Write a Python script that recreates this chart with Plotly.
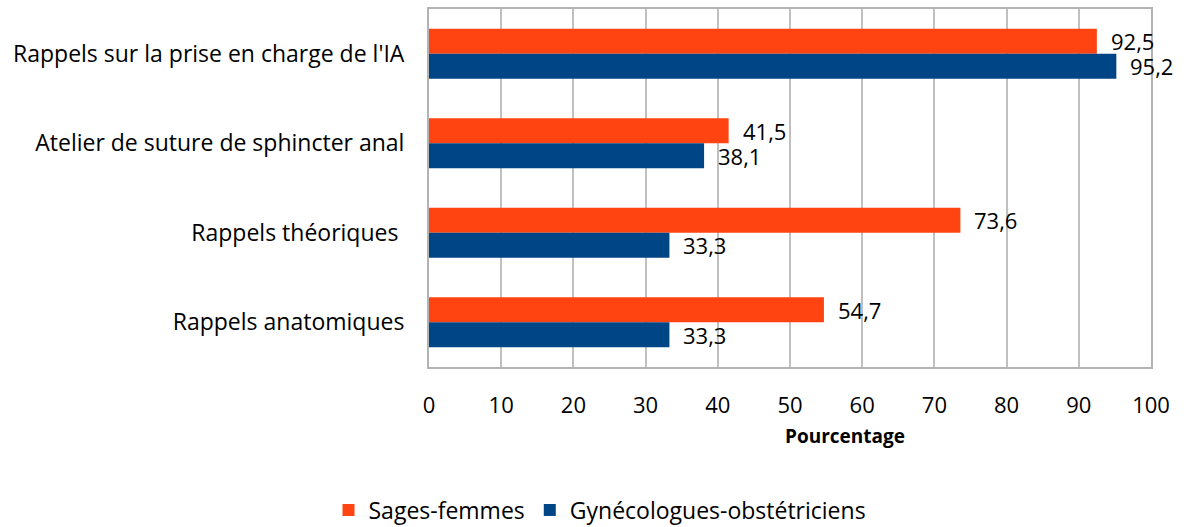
import plotly.graph_objects as go

categories = ["Rappels sur la prise en charge de l'IA",
              "Atelier de suture de sphincter anal",
              "Rappels théoriques ",
              "Rappels anatomiques"]
sages_femmes = [92.5, 41.5, 73.6, 54.7]
gyneco = [95.2, 38.1, 33.3, 33.3]
series_names = ["Sages-femmes", "Gynécologues-obstétriciens"]
colors = ["#FF4411", "#004586"]
x_ticks = [0, 10, 20, 30, 40, 50, 60, 70, 80, 90, 100]

FONT = "Open Sans"
FS = 22

fig = go.Figure()
for name, vals, col in zip(series_names, [sages_femmes, gyneco], colors):
    fig.add_trace(go.Bar(
        y=categories, x=vals, name=name, orientation="h",
        marker=dict(color=col, line=dict(width=0)),
        textposition="none",
    ))

# value labels as annotations anchored to data coordinates
for vals, off in zip([sages_femmes, gyneco], [-0.14, 0.14]):
    for i, v in enumerate(vals):
        fig.add_annotation(
            x=v, y=i + off, xref="x", yref="y",
            text=f"{v:.1f}".replace(".", ","), showarrow=False,
            xanchor="left", yanchor="middle", xshift=12,
            font=dict(family=FONT, size=22, color="#000000"),
        )

fig.add_annotation(
    x=(845 - 429) / 722, xref="paper", y=0, yref="paper", text="<b>Pourcentage</b>",
    showarrow=False, xanchor="center", yanchor="middle", yshift=-69,
    font=dict(family=FONT, size=19, color="#000000"),
)

fig.update_layout(
    width=1190, height=527,
    margin=dict(l=429, r=39, t=9, b=160, autoexpand=False),
    plot_bgcolor="white", paper_bgcolor="white",
    barmode="group", bargap=0.44, bargroupgap=0,
    font=dict(family=FONT, size=FS, color="#000000"),
    showlegend=True,
    legend=dict(orientation="h", x=(600 - 429) / 722, xanchor="center",
                y=-143 / 358, yanchor="middle",
                font=dict(family=FONT, size=23), traceorder="normal"),
    xaxis=dict(range=[0, 100], tickvals=x_ticks, showgrid=True, gridcolor="#c0c0c0",
               gridwidth=1.5, showline=True, linecolor="#b3b3b3", linewidth=2, mirror=True,
               zeroline=False, ticks="", ticklabelstandoff=18,
               tickfont=dict(family=FONT, size=FS)),
    yaxis=dict(autorange="reversed", showline=True, linecolor="#b3b3b3", linewidth=2,
               mirror=True, ticks="", ticklabelstandoff=18,
               tickfont=dict(family=FONT, size=23)),
)

fig.write_html("out.html", config={"displayModeBar": False},
               post_script="document.body.style.margin='0px';")
